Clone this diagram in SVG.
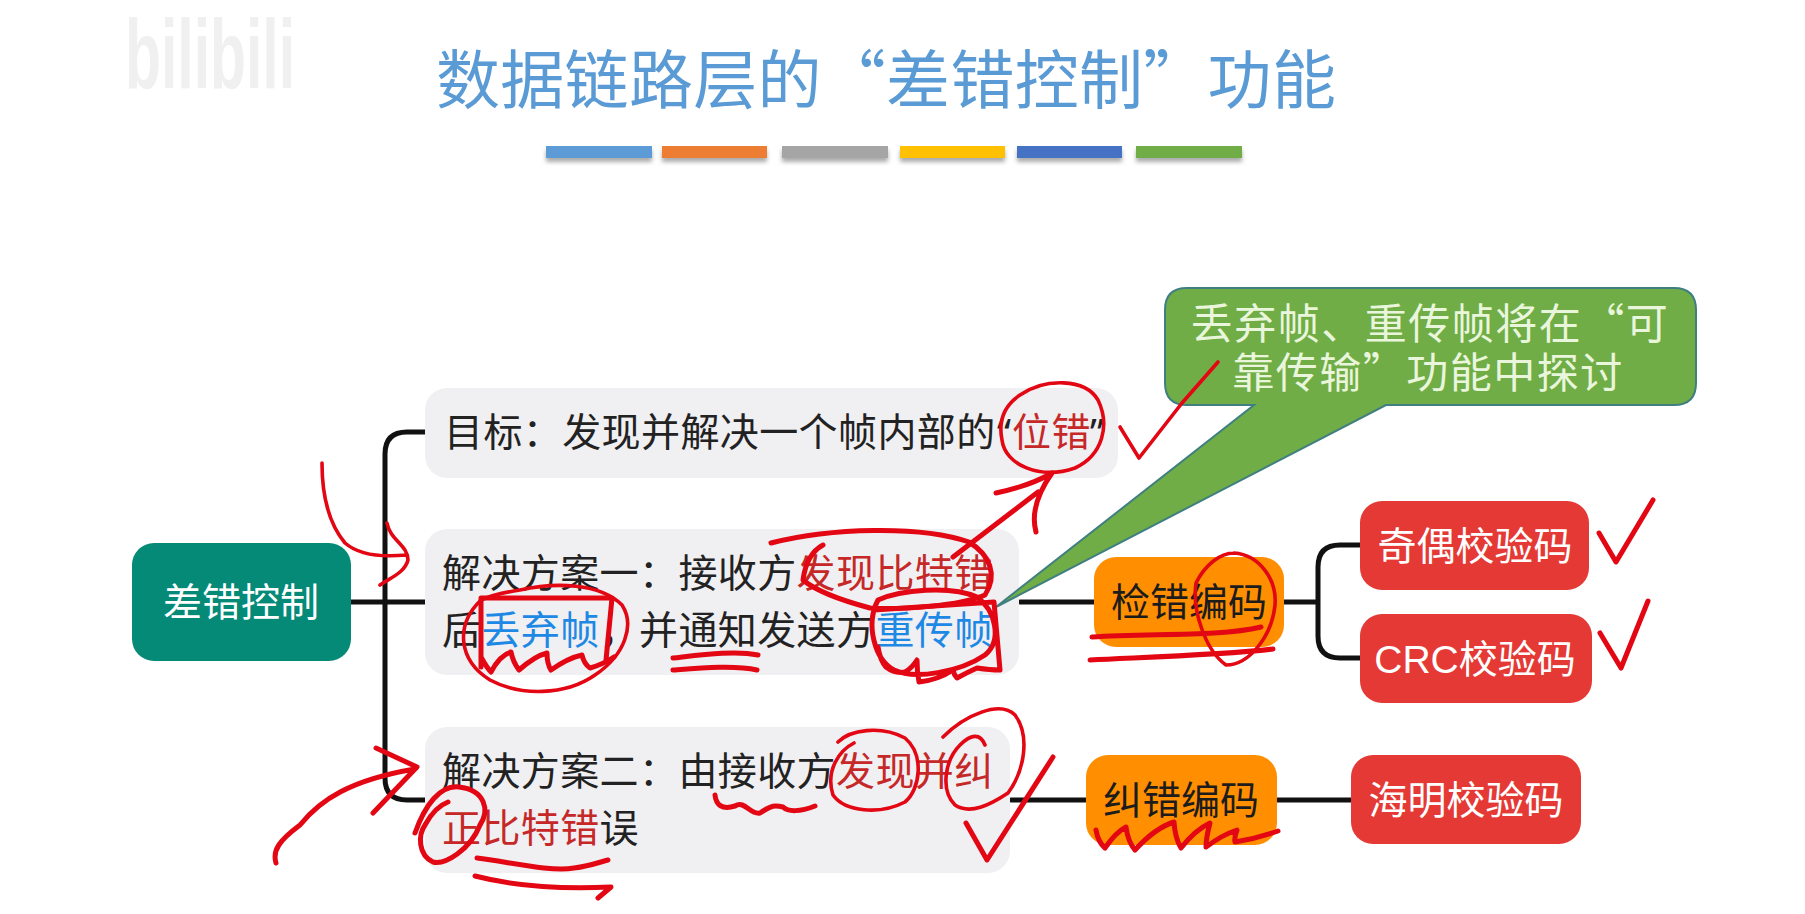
<svg xmlns="http://www.w3.org/2000/svg" width="1805" height="914" viewBox="0 0 1805 914">
<style>
text{font-family:"Noto Sans CJK SC","Noto Sans",sans-serif}
.t{font-size:39px;fill:#222;letter-spacing:.4px}
.w{font-size:39px;fill:#fff;text-anchor:middle}
.d{font-size:39px;fill:#1c1c1c;text-anchor:middle}
.r{fill:#c62828}.b{fill:#1e88e5}
.lat{font-family:"Noto Sans",sans-serif}
.arial{font-family:"Liberation Sans",sans-serif}
.c{fill:none;stroke:#111;stroke-width:5;stroke-linecap:round}
.g{fill:#f0eff2}
.o{fill:#ff8f00}
.e{fill:#e53935}
.co{font-size:42px;fill:#eaf6dc;text-anchor:middle;letter-spacing:1.5px}
.ink path{fill:none;stroke:#e30613;stroke-width:3.6;stroke-linecap:round;stroke-linejoin:round}
.ink path.th{stroke-width:5}
</style>
<defs><filter id="bs" x="-5%" y="-20%" width="110%" height="180%"><feDropShadow dx="0" dy="4" stdDeviation="2" flood-color="#888" flood-opacity=".7"/></filter></defs>
<rect width="1805" height="914" fill="#fff"/>
<g id="watermark"><text x="125" y="88" font-size="98" fill="#f0f0f0" textLength="170" lengthAdjust="spacingAndGlyphs" style="font-family:'Liberation Sans',sans-serif;font-weight:700">bilibili</text></g>
<g id="title"><text x="436" y="103" font-size="64" fill="#5b9bd5" letter-spacing=".3">数据链路层的“差错控制”功能</text></g>
<g id="title-bars" filter="url(#bs)">
<rect x="546" y="146" width="106" height="12" fill="#5b9bd5"/>
<rect x="662" y="146" width="105" height="12" fill="#ed7d31"/>
<rect x="782" y="146" width="106" height="12" fill="#a5a5a5"/>
<rect x="900" y="146" width="105" height="12" fill="#ffc000"/>
<rect x="1017" y="146" width="105" height="12" fill="#4472c4"/>
<rect x="1136" y="146" width="106" height="12" fill="#70ad47"/>
</g>
<g id="connectors">
<path class="c" d="M351 602H425M425 432H407Q385 432 385 454V778Q385 800 407 800H425"/>
<path class="c" d="M1020 602H1094M1284 602H1318M1360 545H1340Q1318 545 1318 567V636Q1318 658 1340 658H1360"/>
<path class="c" d="M1011 800H1086M1277 800H1351"/>
</g>
<g id="n-root"><rect x="132" y="543" width="219" height="118" rx="22" fill="#048a77"/><text class="w" x="241" y="616">差错控制</text></g>
<g id="n-goal"><rect class="g" x="425" y="388" width="693" height="90" rx="22"/><text class="t" x="444" y="446">目标&#xFF1A;发现并解决一个帧内部的<tspan class="lat" x="997">“</tspan><tspan class="r" x="1012">位错</tspan><tspan class="lat" x="1090">”</tspan></text></g>
<g id="n-sol1"><rect class="g" x="425" y="529" width="594" height="146" rx="22"/><text class="t" x="442" y="587">解决方案一&#xFF1A;接收方<tspan class="r">发现比特错</tspan></text><text class="t" x="442" y="644">后<tspan class="b">丢弃帧</tspan>&#xFF0C;并通知发送方<tspan class="b">重传帧</tspan></text></g>
<g id="n-sol2"><rect class="g" x="425" y="727" width="585" height="146" rx="22"/><text class="t" x="442" y="785">解决方案二&#xFF1A;由接收方<tspan class="r">发现并纠</tspan></text><text class="t" x="442" y="842"><tspan class="r">正比特错</tspan>误</text></g>
<g id="n-detect"><rect class="o" x="1094" y="557" width="190" height="90" rx="22"/><text class="d" x="1189" y="616">检错编码</text></g>
<g id="n-correct"><rect class="o" x="1086" y="755" width="191" height="90" rx="22"/><text class="d" x="1181" y="814">纠错编码</text></g>
<g id="n-parity"><rect class="e" x="1360" y="501" width="229" height="89" rx="22"/><text class="w" x="1475" y="560">奇偶校验码</text></g>
<g id="n-crc"><rect class="e" x="1360" y="614" width="232" height="89" rx="22"/><text class="w" x="1475" y="673"><tspan class="arial">CRC</tspan>校验码</text></g>
<g id="n-hamming"><rect class="e" x="1351" y="755" width="230" height="89" rx="22"/><text class="w" x="1466" y="814">海明校验码</text></g>
<g id="n-callout"><path d="M1187 288H1674Q1696 288 1696 310V383Q1696 405 1674 405H1386L996 607L1254 405H1187Q1165 405 1165 383V310Q1165 288 1187 288Z" fill="#70ad47" stroke="#3f7f80" stroke-width="2"/><text class="co" x="1430" y="339">丢弃帧、重传帧将在“可</text><text class="co" x="1428" y="388">靠传输”功能中探讨</text></g>
<g id="ink" class="ink">
<path d="M322 463C322 500 330 525 345 543C360 556 385 557 406 555M387 523C390 540 408 545 408 560C405 572 392 577 380 585"/>
<path d="M481 600C455 625 458 660 490 680C520 696 565 696 595 675C625 655 635 625 622 605C600 583 555 582 520 590C500 593 490 596 481 600Z"/>
<path class="th" d="M481 667L481 598L612 598L606 660M481 657Q487 668 491 672Q500 655 511 652Q513 662 519 670Q535 656 547 653Q547 664 551 670Q568 658 582 655Q584 664 590 668Q604 664 614 657"/>
<path class="th" d="M673 658C700 655 735 650 758 655M673 670C700 668 735 665 757 670"/>
<path d="M1020 395C1045 378 1085 378 1098 400C1110 425 1103 455 1075 468C1040 480 1005 465 1002 440C998 420 1005 405 1020 395"/>
<path d="M1120 427L1139 458L1182 403L1218 362"/>
<path class="th" d="M953 557L1038 492M996 493C1020 488 1040 480 1052 473C1040 490 1030 510 1036 532"/>
<path class="th" d="M771 543C830 528 920 525 969 542C990 555 998 575 985 595C960 606 900 610 870 608C840 600 815 590 803 580C805 565 810 552 823 545"/>
<path class="th" d="M878 600C900 590 950 585 977 597C995 610 1003 640 985 655C960 672 915 680 894 670C875 660 865 625 878 600ZM874 610L994 602L1000 670M878 647Q880 660 886 667Q895 674 905 672Q912 668 917 660Q917 672 919 682Q938 680 953 670Q954 675 957 678Q968 672 977 668Q990 670 1000 670"/>
<path class="th" d="M1092 637C1150 633 1220 637 1261 627M1090 660C1150 657 1220 655 1273 649"/>
<path d="M1234 553C1260 555 1277 580 1275 605C1272 635 1250 665 1226 665C1205 650 1192 610 1196 583C1205 565 1220 553 1234 553"/>
<path class="th" d="M276 863C272 850 280 840 300 825C320 800 350 780 415 769M376 748L417 767L373 813"/>
<path class="th" d="M415 833C425 805 440 785 459 787C485 790 490 810 480 825C470 850 445 865 433 862C418 855 418 835 425 825C432 812 440 805 448 802"/>
<path class="th" d="M477 858C510 862 550 872 574 868C590 866 600 862 608 860M475 876C510 885 550 890 611 887L598 898"/>
<path class="th" d="M715 795C716 805 722 810 735 806C745 800 750 815 760 813C772 805 775 805 783 807C788 812 800 812 815 806"/>
<path d="M838 742C850 730 880 725 905 738C925 755 920 790 905 802C880 815 845 812 833 795C825 770 840 750 854 743"/>
<path d="M985 745C980 732 970 735 960 745C945 760 940 790 955 805C970 815 990 805 1008 793C1025 770 1030 735 1015 715C1000 700 965 715 943 737"/>
<path class="th" d="M966 823L987 860L1053 757"/>
<path class="th" d="M1096 830Q1098 842 1105 848Q1116 832 1126 827Q1128 842 1135 850Q1155 828 1174 822Q1175 838 1181 848Q1195 830 1210 823Q1206 838 1206 847Q1222 835 1237 830Q1234 838 1235 842Q1258 838 1278 831"/>
<path class="th" d="M1599 533L1616 562L1653 500"/>
<path class="th" d="M1600 633L1621 668L1648 601"/>
</g>
</svg>
